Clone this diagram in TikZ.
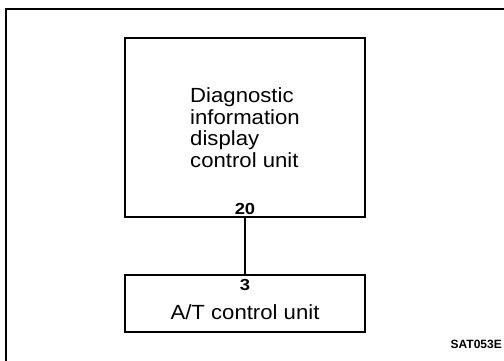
\documentclass[tikz,border=0pt]{standalone}
\usepackage{fontspec}
\setmainfont{Liberation Sans}
\newfontfamily\boxfont[FakeStretch=1.08]{Liberation Sans}
\newfontfamily\pinfont[FakeStretch=1.15]{Liberation Sans}
\begin{document}
\begin{tikzpicture}[x=1pt, y=-1pt,
    unitbox/.style={draw, line width=1.4pt, minimum width=240pt, inner sep=0pt},
    unittext/.style={font=\boxfont\fontsize{20.5}{21.5}\selectfont, align=left},
    pinlabel/.style={font=\pinfont\bfseries\fontsize{16}{16}\selectfont, inner sep=0pt}]
    \useasboundingbox (0,0) rectangle (504,360);
    \clip (0,0) rectangle (504,360);
    \draw[line width=2pt] (6,9) rectangle (512,368);
    \node[unitbox, minimum height=179pt, unittext] (diag) at (245,127.5) {Diagnostic\\information\\display\\control unit};
    \node[unitbox, minimum height=57pt] (tcu) at (245,303.5) {};
    \node[unittext] (tcutext) at ([yshift=-8.5pt]tcu.center) {A/T control unit};
    \draw[line width=1.3pt] (diag.south) -- (tcu.north);
    \node[pinlabel, anchor=south] (pin20) at ([yshift=3pt]diag.south) {20};
    \node[pinlabel, anchor=north] (pin3) at ([yshift=-5pt]tcu.north) {3};
    \node[font=\bfseries\fontsize{12}{12}\selectfont, anchor=east, inner sep=0pt] (code) at (502,344.5) {SAT053E};
\end{tikzpicture}
\end{document}
